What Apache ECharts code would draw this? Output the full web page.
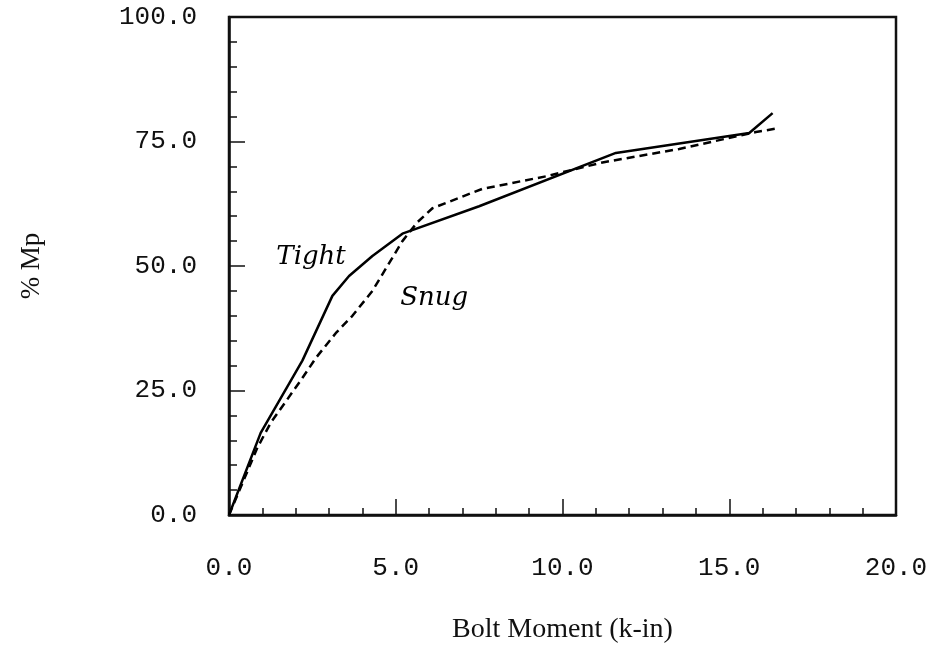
<!DOCTYPE html>
<html>
<head>
<meta charset="utf-8">
<script src="https://cdn.jsdelivr.net/npm/echarts@6/dist/echarts.min.js"></script>
<style>
html,body{margin:0;padding:0;background:#fff;}
#chart{width:932px;height:667px;}
</style>
</head>
<body>
<div id="chart"></div>
<script>
// Tight (solid) curve: bolt moment (k-in) vs % Mp
const tightX = [0, 0.95, 2.2, 3.1, 3.6, 4.3, 5.2, 7.5, 11.6, 15.6, 16.3];
const tightY = [0, 16.5, 31, 44, 48, 52, 56.5, 62, 72.7, 76.7, 80.7];
// Snug (dashed) curve
const snugX = [0, 0.85, 1.25, 2.2, 2.6, 3.2, 3.7, 4.3, 5.2, 5.65, 6.1, 7.6, 9.5, 11.2, 13.5, 15.8, 16.5];
const snugY = [0, 13.5, 18.5, 27.5, 31.5, 36.5, 40, 45, 55, 58.8, 61.6, 65.5, 68, 70.8, 73.5, 76.9, 77.7];
// Axis tick labels
const xTickValues = [0, 5, 10, 15, 20];
const xTickLabels = ['0.0', '5.0', '10.0', '15.0', '20.0'];
const yTickValues = [0, 25, 50, 75, 100];
const yTickLabels = ['0.0', '25.0', '50.0', '75.0', '100.0'];
// Curve annotations (data coordinates)
const annotNames = ['Tight', 'Snug'];
const annotX = [2.46, 6.15];
const annotY = [51.8, 43.6];

const zip = (a, b) => a.map((v, i) => [v, b[i]]);

const chart = echarts.init(document.getElementById('chart'), null, {renderer: 'canvas'});
const monoLabel = {fontFamily: 'Liberation Mono', fontSize: 26, color: '#111'};
const annotLabel = {show: true, position: 'inside', formatter: p => p.name,
  fontFamily: 'DejaVu Serif', fontStyle: 'italic', fontSize: 26, color: '#000', opacity: 1};

const markFor = i => ({
  symbol: 'circle', symbolSize: 1, silent: true, animation: false,
  itemStyle: {color: '#fff', opacity: 1},
  label: annotLabel,
  data: [{name: annotNames[i], coord: [annotX[i], annotY[i]]}]
});

chart.setOption({
  animation: false,
  backgroundColor: '#fff',
  grid: {left: 229, top: 17, right: 36, bottom: 152, show: true, borderColor: '#111', borderWidth: 2.5, backgroundColor: 'transparent'},
  xAxis: {
    type: 'value', min: 0, max: 20, interval: 5,
    name: 'Bolt Moment (k-in)', nameLocation: 'middle', nameGap: 101,
    nameTextStyle: {fontFamily: 'Liberation Serif', fontSize: 28, color: '#111'},
    axisLine: {show: true, onZero: false, lineStyle: {color: '#111', width: 2.5}},
    axisTick: {show: true, inside: true, length: 16, lineStyle: {color: '#111', width: 1.5}},
    minorTick: {show: true, splitNumber: 5, length: 7, lineStyle: {color: '#111', width: 1.5}},
    splitLine: {show: false},
    axisLabel: Object.assign({margin: 40, formatter: v => xTickLabels[xTickValues.indexOf(v)]}, monoLabel)
  },
  yAxis: {
    type: 'value', min: 0, max: 100, interval: 25,
    name: '% Mp', nameLocation: 'middle', nameGap: 184,
    nameTextStyle: {fontFamily: 'Liberation Serif', fontSize: 27, color: '#111'},
    axisLine: {show: true, onZero: false, lineStyle: {color: '#111', width: 2.5}},
    axisTick: {show: true, inside: true, length: 16, lineStyle: {color: '#111', width: 1.5}},
    minorTick: {show: true, splitNumber: 5, length: 8, lineStyle: {color: '#111', width: 1.5}},
    splitLine: {show: false},
    axisLabel: Object.assign({margin: 32, formatter: v => yTickLabels[yTickValues.indexOf(v)]}, monoLabel)
  },
  series: [
    {
      name: 'Tight', type: 'line', data: zip(tightX, tightY), showSymbol: false,
      lineStyle: {color: '#000', width: 2.5, type: 'solid'},
      markPoint: markFor(0)
    },
    {
      name: 'Snug', type: 'line', data: zip(snugX, snugY), showSymbol: false,
      lineStyle: {color: '#000', width: 2.5, type: [8, 5]},
      markPoint: markFor(1)
    }
  ]
});
</script>
</body>
</html>
